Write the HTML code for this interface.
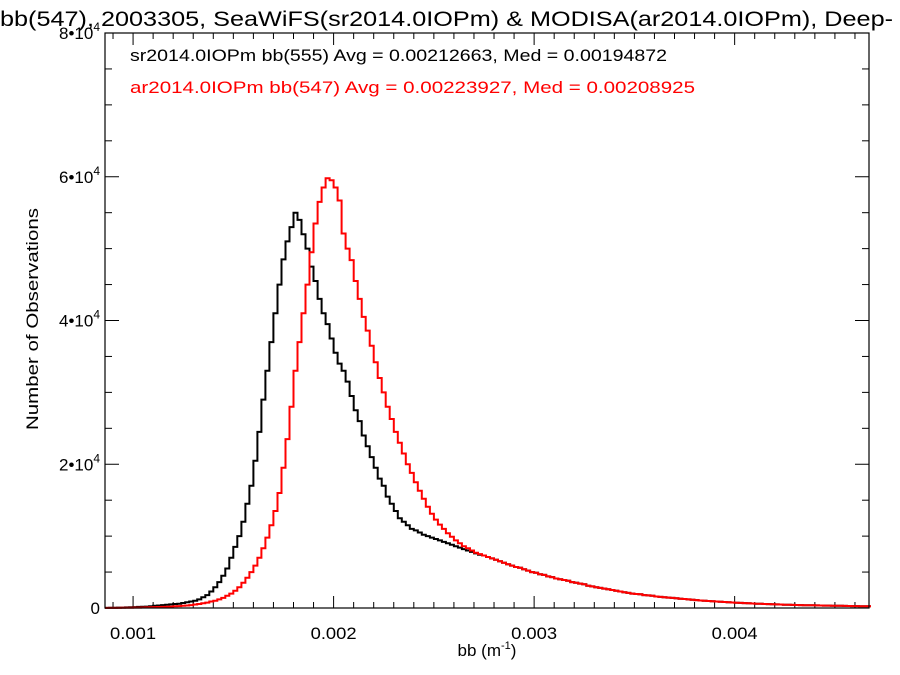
<!DOCTYPE html>
<html><head><meta charset="utf-8"><style>
body{margin:0;background:#fff;}
svg{display:block;font-family:"Liberation Sans",Arial,sans-serif;}
</style></head><body>
<svg id="chart" width="900" height="675" viewBox="0 0 900 675">
<text x="0" y="26" font-size="21" fill="#000" textLength="893" lengthAdjust="spacingAndGlyphs">bb(547), 2003305, SeaWiFS(sr2014.0IOPm) &amp; MODISA(ar2014.0IOPm), Deep-</text>
<text x="130" y="61" font-size="17" fill="#000" textLength="537" lengthAdjust="spacingAndGlyphs">sr2014.0IOPm bb(555) Avg = 0.00212663, Med = 0.00194872</text>
<text x="130" y="93" font-size="17" fill="#ff0000" textLength="565" lengthAdjust="spacingAndGlyphs">ar2014.0IOPm bb(547) Avg = 0.00223927, Med = 0.00208925</text>
<text transform="translate(38,319) rotate(-90)" text-anchor="middle" font-size="17" textLength="222" lengthAdjust="spacingAndGlyphs">Number of Observations</text>
<text x="487" y="656" text-anchor="middle" font-size="17">bb (m<tspan font-size="11" dy="-7">-1</tspan><tspan dy="7">)</tspan></text>
<g id="ticks"></g>
<g id="series"></g>
<rect x="105" y="33" width="764" height="575" fill="none" stroke="#000" stroke-width="1.2"/>
</svg>
<script>
const binStart = 0.00086;
const binWidth = 0.00002;
const xTicks = [0.001, 0.002, 0.003, 0.004];
const xTickLabels = ["0.001", "0.002", "0.003", "0.004"];
const yTicks = [0, 20000, 40000, 60000, 80000];
const yTickLabels = ["0", "2•10", "4•10", "6•10", "8•10"];
// counts in thousands
const blackCounts = [
0.02,0.03,0.04,0.05,0.06,0.08,0.1,
0.12,0.15,0.18,0.2,0.25,0.3,0.35,0.4,0.45,0.5,
0.55,0.6,0.7,0.8,0.9,1.0,1.2,1.5,1.8,2.3,
2.9,3.6,4.5,5.5,7,8.5,10,12,14.5,17,
20.5,24.5,29,33,37,41,45,48.5,51,53,
55,54,52,50,47.5,45.5,43,41,39.5,37.5,
35.5,34,33,31.5,29.5,27.5,26,24,22.5,21,
19.5,18,17,15.5,14.5,13.5,12.5,12,11.5,11,
10.8,10.5,10.2,10,9.8,9.6,9.4,9.2,9,8.8,
8.6,8.4,8.2,8,7.8,7.6,7.4,7.3,7.1,6.9,
6.7,6.5,6.3,6.1,5.9,5.7,5.6,5.4,5.2,5.0,
4.9,4.7,4.6,4.4,4.3,4.1,4.0,3.9,3.8,3.6,
3.5,3.4,3.3,3.1,3.0,2.9,2.8,2.7,2.6,2.5,
2.4,2.3,2.2,2.1,2.0,1.95,1.9,1.8,1.75,1.7,
1.6,1.55,1.5,1.45,1.4,1.35,1.3,1.25,1.2,1.15,
1.1,1.05,1.0,0.98,0.95,0.9,0.87,0.84,0.8,0.77,
0.74,0.71,0.68,0.66,0.63,0.6,0.58,0.56,0.54,0.52,
0.5,0.48,0.46,0.45,0.43,0.42,0.4,0.39,0.38,0.37,
0.36,0.35,0.34,0.33,0.32,0.31,0.3,0.29,0.28,0.27,
0.26,0.25,0.25,0.24,0.24];
const redCounts = [
0.01,0.01,0.02,0.02,0.03,0.03,0.04,
0.05,0.06,0.07,0.08,0.1,0.12,0.14,0.16,0.18,0.2,
0.23,0.27,0.3,0.35,0.4,0.48,0.56,0.65,0.75,0.9,
1.0,1.2,1.4,1.7,2.0,2.4,2.9,3.5,4.2,5.0,
5.9,7,8.3,9.8,11.5,13.5,16,19.5,23.5,28,
33,37,41,45,49.5,53.5,56.5,58.5,59.8,59.5,
58.5,56.7,52.1,50,48.4,45.5,43,40.5,38.6,36.5,
34.2,32,30,28,26.3,24.5,23,21.5,20,18.8,
17.5,16.3,15.2,14.1,13.1,12.3,11.6,11,10.4,9.9,
9.4,9,8.6,8.3,8,7.7,7.5,7.3,7.1,6.9,
6.7,6.5,6.3,6.1,5.9,5.7,5.6,5.4,5.2,5.0,
4.9,4.7,4.6,4.4,4.3,4.1,4.0,3.9,3.8,3.6,
3.5,3.4,3.3,3.1,3.0,2.9,2.8,2.7,2.6,2.5,
2.4,2.3,2.2,2.1,2.0,1.95,1.9,1.8,1.75,1.7,
1.6,1.55,1.5,1.45,1.4,1.35,1.3,1.25,1.2,1.15,
1.1,1.05,1.0,0.98,0.95,0.9,0.87,0.84,0.8,0.77,
0.74,0.71,0.68,0.66,0.63,0.6,0.58,0.56,0.54,0.52,
0.5,0.48,0.46,0.45,0.43,0.42,0.4,0.39,0.38,0.37,
0.36,0.35,0.34,0.33,0.32,0.31,0.3,0.29,0.28,0.27,
0.26,0.25,0.25,0.24,0.24];

const NS = "http://www.w3.org/2000/svg";
const L = 105, R = 869, T = 33, B = 608;
const xMin = 0.00086, xMax = 0.00467, yMax = 80000;
function xs(v){ return L + (v - xMin) / (xMax - xMin) * (R - L); }
function ys(v){ return B - v / yMax * (B - T); }
function mk(tag, attrs){ const e = document.createElementNS(NS, tag); for (const k in attrs) e.setAttribute(k, attrs[k]); return e; }

const tg = document.getElementById("ticks");
for (let k = 9; k <= 46; k++) {
  const v = k / 10000;
  const x = xs(v);
  if (x < L || x > R) continue;
  const major = k % 10 === 0;
  const len = major ? 12 : 6;
  const t1 = mk("line", {x1:x, x2:x, y1:B, y2:B-len, stroke:"#000", "stroke-width":1});
  
  
  tg.appendChild(t1);
  const t2 = mk("line", {x1:x, x2:x, y1:T, y2:T+len, stroke:"#000", "stroke-width":1});
  
  
  tg.appendChild(t2);
}
xTicks.forEach((v, i) => {
  const t = mk("text", {x: xs(v), y: 639, "text-anchor":"middle", "font-size":17, textLength:46, lengthAdjust:"spacingAndGlyphs"});
  t.textContent = xTickLabels[i];
  
  
  tg.appendChild(t);
});
for (let v = 5000; v < yMax; v += 5000) {
  const y = ys(v);
  const major = v % 20000 === 0;
  const len = major ? 14 : 7;
  const a = mk("line", {x1:L, x2:L+len, y1:y, y2:y, stroke:"#000", "stroke-width":1});
  
  
  tg.appendChild(a);
  const b = mk("line", {x1:R, x2:R-len, y1:y, y2:y, stroke:"#000", "stroke-width":1});
  
  
  tg.appendChild(b);
}
yTicks.forEach((v, i) => {
  const t = mk("text", {x: 100, y: ys(v) + 6, "text-anchor":"end", "font-size":17});
  t.textContent = yTickLabels[i];
  if (v !== 0) {
    const s = mk("tspan", {"font-size":12, dy:-8});
    s.textContent = "4";
    t.appendChild(s);
  }
  
  
  tg.appendChild(t);
});

function stepPath(counts){
  let d = "";
  counts.forEach((c, i) => {
    const x0 = xs(binStart + i * binWidth), x1 = xs(binStart + (i + 1) * binWidth);
    const y = ys(c * 1000);
    d += (i === 0 ? "M" : "L") + x0.toFixed(1) + "," + y.toFixed(1) + "L" + Math.min(x1, R).toFixed(1) + "," + y.toFixed(1);
  });
  return d;
}
const sg = document.getElementById("series");
const pb = mk("path", {d: stepPath(blackCounts), fill:"none", stroke:"#000", "stroke-width":2});


sg.appendChild(pb);
const pr = mk("path", {d: stepPath(redCounts), fill:"none", stroke:"#ff0000", "stroke-width":2});


sg.appendChild(pr);
</script>
</body></html>
